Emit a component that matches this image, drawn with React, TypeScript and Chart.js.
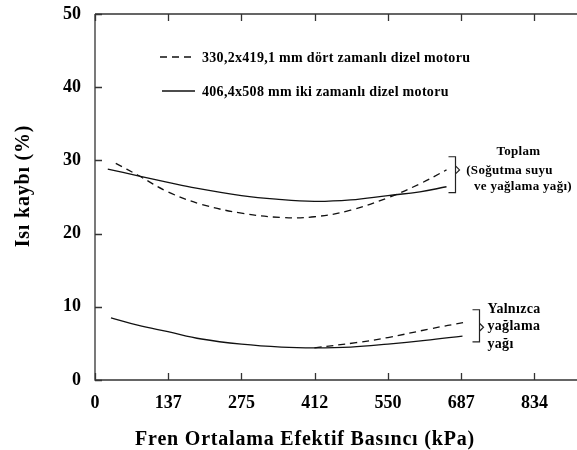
import React, { useEffect, useRef } from "react";
import { Chart, registerables } from "chart.js";

Chart.register(...registerables);

// ---- data ----
const xTickValues = [0, 137.5, 275, 412.5, 550, 687.5, 825];
const xTickLabels = ["0", "137", "275", "412", "550", "687", "834"];
const yMin = 0;
const yMax = 50;
const yStep = 10;
const xMin = 0;
const xMax = 905;

const seriesLabels = [
  "330,2x419,1 mm dört zamanlı dizel motoru",
  "406,4x508 mm iki zamanlı dizel motoru",
];

// Total (cooling water + lubricating oil)
const totalFourStrokeX = [39, 80, 137, 200, 275, 350, 412, 480, 550, 610, 660];
const totalFourStrokeY = [29.6, 28.0, 25.7, 24.0, 22.8, 22.2, 22.3, 23.2, 24.9, 26.8, 28.7];
const totalTwoStrokeX = [24, 81, 137, 190, 275, 340, 412, 480, 550, 610, 660];
const totalTwoStrokeY = [28.8, 27.9, 27.0, 26.2, 25.2, 24.7, 24.4, 24.6, 25.2, 25.7, 26.4];

// Lubricating oil only
const oilFourStrokeX = [412, 490, 550, 630, 695];
const oilFourStrokeY = [4.4, 5.1, 5.8, 7.0, 7.9];
const oilTwoStrokeX = [30, 80, 137, 200, 275, 350, 412, 480, 550, 620, 690];
const oilTwoStrokeY = [8.5, 7.5, 6.6, 5.6, 4.9, 4.5, 4.4, 4.5, 4.9, 5.4, 6.0];

const totalNote = ["Toplam", "(Soğutma suyu", " ve yağlama yağı)"];
const oilNote = ["Yalnızca", "yağlama", "yağı"];
const xTitle = "Fren Ortalama Efektif Basıncı (kPa)";
const yTitle = "Isı kaybı (%)";

const FONT = "'Liberation Serif', 'Times New Roman', serif";
const DASH = [7, 5];
const LINE = "#111";
const AXIS = "#333";

const toPts = (xs: number[], ys: number[]) => xs.map((x, i) => ({ x, y: ys[i] }));

const decorPlugin = {
  id: "decor",
  afterDraw(chart: any) {
    const ctx = chart.ctx as CanvasRenderingContext2D;
    const a = chart.chartArea;
    const xs = chart.scales.x;
    const ys = chart.scales.y;
    ctx.save();
    // frame: left, bottom, top
    ctx.strokeStyle = AXIS;
    ctx.lineWidth = 1.3;
    ctx.beginPath();
    ctx.moveTo(a.left, a.top);
    ctx.lineTo(a.left, a.bottom);
    ctx.lineTo(chart.width, a.bottom);
    ctx.moveTo(a.left, a.top);
    ctx.lineTo(chart.width, a.top);
    ctx.stroke();
    // inward ticks
    const tl = 7;
    ctx.beginPath();
    xTickValues.forEach((v) => {
      const px = Math.round(xs.getPixelForValue(v)) + 0.5;
      ctx.moveTo(px, a.bottom);
      ctx.lineTo(px, a.bottom - tl);
      ctx.moveTo(px, a.top);
      ctx.lineTo(px, a.top + tl);
    });
    for (let v = yMin; v <= yMax; v += yStep) {
      const py = Math.round(ys.getPixelForValue(v)) + 0.5;
      ctx.moveTo(a.left, py);
      ctx.lineTo(a.left + tl, py);
    }
    ctx.stroke();

    // legend
    ctx.strokeStyle = LINE;
    ctx.lineWidth = 1.3;
    ctx.fillStyle = "#000";
    ctx.font = `bold 14px ${FONT}`;
    (ctx as any).letterSpacing = "0.3px";
    ctx.textBaseline = "middle";
    ctx.textAlign = "left";
    const legendRows = [
      { y: a.top + 43, x0: a.left + 65, dash: DASH },
      { y: a.top + 77, x0: a.left + 67, dash: [] as number[] },
    ];
    legendRows.forEach((r, i) => {
      ctx.setLineDash(r.dash);
      ctx.beginPath();
      ctx.moveTo(r.x0, r.y);
      ctx.lineTo(a.left + 100, r.y);
      ctx.stroke();
      ctx.setLineDash([]);
      ctx.fillText(seriesLabels[i], a.left + 107, r.y + 1);
    });

    // brackets
    const px = (v: number) => xs.getPixelForValue(v);
    const py = (v: number) => ys.getPixelForValue(v);
    const bracket = (x: number, yTop: number, yBot: number, yMid: number) => {
      ctx.beginPath();
      ctx.moveTo(x - 7, yTop);
      ctx.lineTo(x, yTop);
      ctx.lineTo(x, yBot);
      ctx.lineTo(x - 7, yBot);
      ctx.moveTo(x, yMid - 4);
      ctx.lineTo(x + 4, yMid);
      ctx.lineTo(x, yMid + 4);
      ctx.stroke();
    };
    ctx.lineWidth = 1.2;
    ctx.strokeStyle = "#222";
    bracket(Math.round(px(676)) + 0.5, py(30.5), py(25.6), py(28.7));
    bracket(Math.round(px(721)) + 0.5, py(9.6), py(5.2), py(7.2));

    // notes
    ctx.fillStyle = "#000";
    ctx.font = `bold 13px ${FONT}`;
    (ctx as any).letterSpacing = "0.3px";
    ctx.textAlign = "center";
    ctx.fillText(totalNote[0], px(795), py(31.2));
    ctx.textAlign = "left";
    ctx.fillText(totalNote[1], px(697), py(28.6));
    ctx.fillText(totalNote[2], px(705), py(26.4));
    ctx.font = `bold 14px ${FONT}`;
    ctx.fillText(oilNote[0], px(737), py(9.6));
    ctx.fillText(oilNote[1], px(737), py(7.3));
    ctx.fillText(oilNote[2], px(737), py(4.9));

    // axis titles
    (ctx as any).letterSpacing = "0.8px";
    ctx.font = `bold 20px ${FONT}`;
    ctx.textAlign = "center";
    ctx.fillText(xTitle, a.left + 210, 440);
    ctx.translate(24, (a.top + a.bottom) / 2 - 11);
    ctx.rotate(-Math.PI / 2);
    ctx.fillText(yTitle, 0, 0);
    ctx.restore();
  },
};

export default function App() {
  const ref = useRef<HTMLCanvasElement | null>(null);
  useEffect(() => {
    if (!ref.current) return;
    const common = { borderColor: LINE, borderWidth: 1.3, pointRadius: 0, tension: 0.4, fill: false };
    const chart = new Chart(ref.current, {
      type: "line",
      data: {
        datasets: [
          { ...common, label: seriesLabels[0], data: toPts(totalFourStrokeX, totalFourStrokeY), borderDash: DASH },
          { ...common, label: seriesLabels[1], data: toPts(totalTwoStrokeX, totalTwoStrokeY) },
          { ...common, label: seriesLabels[0], data: toPts(oilFourStrokeX, oilFourStrokeY), borderDash: DASH },
          { ...common, label: seriesLabels[1], data: toPts(oilTwoStrokeX, oilTwoStrokeY) },
        ],
      },
      options: {
        animation: false,
        responsive: false,
        devicePixelRatio: 1,
        layout: { padding: { top: 14, right: 0, left: 0, bottom: 0 } },
        plugins: { legend: { display: false }, tooltip: { enabled: false }, title: { display: false } },
        scales: {
          x: {
            type: "linear",
            min: xMin,
            max: xMax,
            afterBuildTicks: (s: any) => {
              s.ticks = xTickValues.map((v) => ({ value: v }));
            },
            afterFit: (s: any) => {
              s.height = 70;
              s.paddingLeft = 0;
              s.paddingRight = 0;
            },
            grid: { display: false, drawTicks: false },
            border: { display: false },
            ticks: {
              autoSkip: false,
              maxRotation: 0,
              padding: 13,
              color: "#000",
              font: { family: FONT, size: 18, weight: "bold" },
              callback: (_v: any, i: number) => xTickLabels[i],
            },
          },
          y: {
            type: "linear",
            min: yMin,
            max: yMax,
            afterFit: (s: any) => {
              s.width = 95;
              s.paddingTop = 0;
              s.paddingBottom = 0;
            },
            grid: { display: false, drawTicks: false },
            border: { display: false },
            ticks: {
              stepSize: yStep,
              padding: 14,
              color: "#000",
              font: { family: FONT, size: 18, weight: "bold" },
            },
          },
        },
      },
      plugins: [decorPlugin],
    } as any);
    return () => chart.destroy();
  }, []);
  return (
    <div style={{ position: "absolute", left: 0, top: 0, width: 577, height: 450, background: "#fff" }}>
      <canvas ref={ref} width={577} height={450} />
    </div>
  );
}
